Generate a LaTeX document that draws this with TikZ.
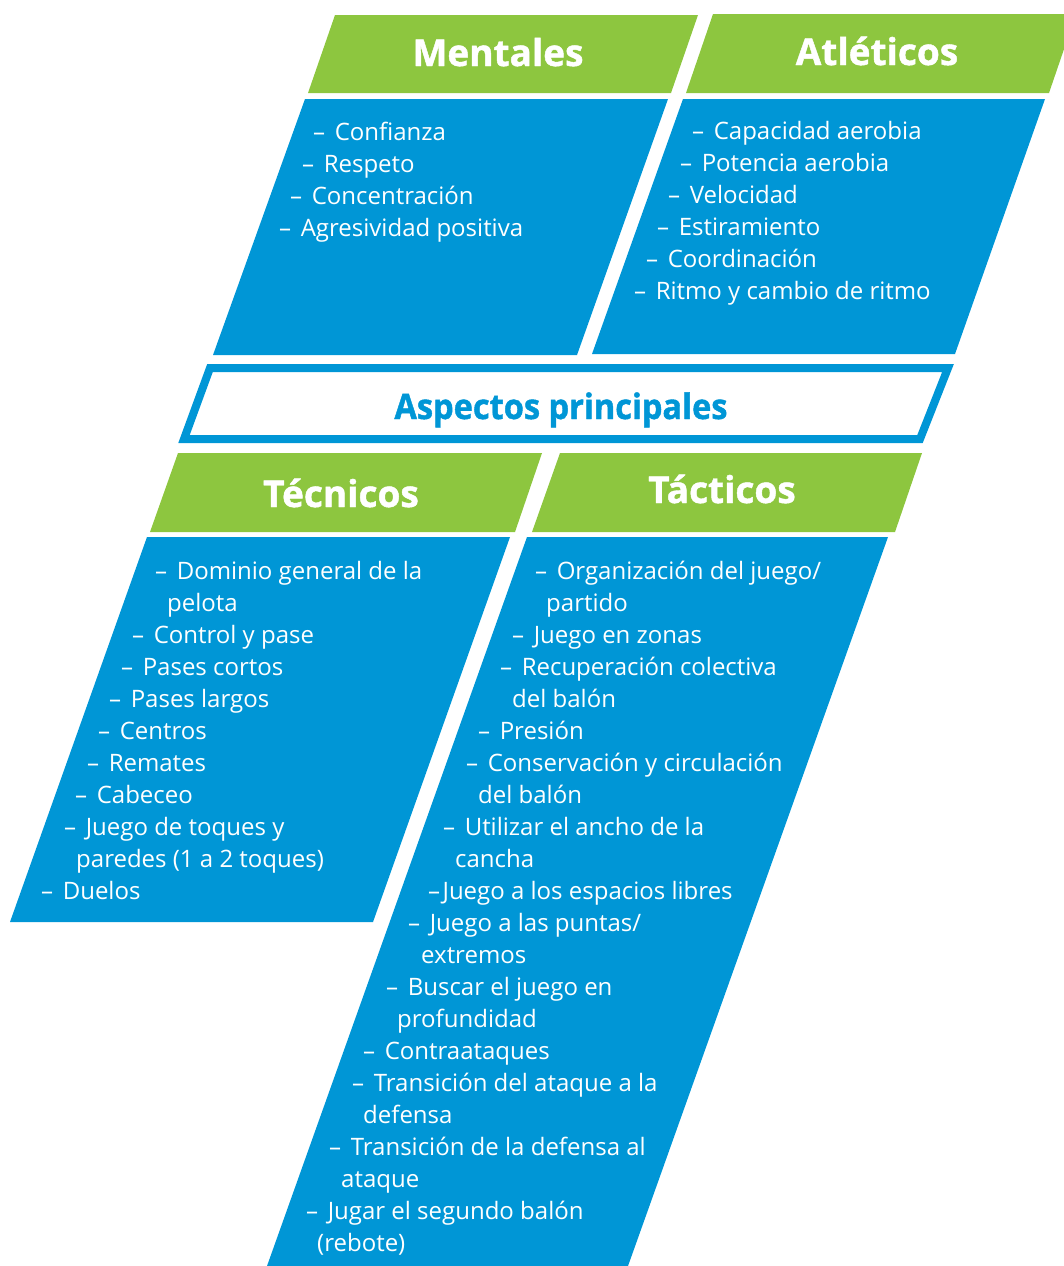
\documentclass[tikz,border=0pt]{standalone}
\usepackage{fontspec}
\setmainfont{Open Sans}
\newfontfamily\gruesa[FakeBold=1.2]{Open Sans}
\newfontfamily\estrecha[FakeBold=1.2,FakeStretch=0.93]{Open Sans}
\definecolor{verde}{RGB}{141,198,63}
\definecolor{azul}{RGB}{0,150,214}
\tikzset{
  titulo/.style={anchor=base,text=white,inner sep=0pt,font=\fontsize{37}{40}\gruesa\bfseries},
  punto/.style={anchor=base west,text=white,inner sep=0pt,font=\fontsize{24}{27}\selectfont},
}
\newcommand{\guion}{–\hspace{0.4em}}
\begin{document}
\begin{tikzpicture}[x=1pt,y=-1pt]
\useasboundingbox (0,0) rectangle (1064,1266);
\clip (0,0) rectangle (1064,1266);
% Mentales
\fill[verde] (335,15) -- (698,15) -- (671,93) -- (308,93) -- cycle;
\fill[azul] (305,99) -- (668,99) -- (577,355) -- (213,355) -- cycle;
\node[titulo] (mentales) at (498,66) {Mentales};
\node[punto] (m1) at (313,140) {\guion Confianza};
\node[punto] (m2) at (302,172) {\guion Respeto};
\node[punto] (m3) at (290,204) {\guion Concentración};
\node[punto] (m4) at (279,236) {\guion Agresividad positiva};
% Atleticos
\fill[verde] (713,14) -- (1076,14) -- (1049,93) -- (686,93) -- cycle;
\fill[azul] (683,99) -- (1045,99) -- (955,354) -- (592,354) -- cycle;
\node[titulo] (atleticos) at (877,65) {Atléticos};
\node[punto] (a1) at (692,139) {\guion Capacidad aerobia};
\node[punto] (a2) at (680,171) {\guion Potencia aerobia};
\node[punto] (a3) at (668,203) {\guion Velocidad};
\node[punto] (a4) at (657,235) {\guion Estiramiento};
\node[punto] (a5) at (646,267) {\guion Coordinación};
\node[punto] (a6) at (634,299) {\guion Ritmo y cambio de ritmo};
% Aspectos principales
\draw[azul,line width=8pt] (210,368) -- (948,368) -- (920,439) -- (184,439) -- cycle;
\node[titulo,text=azul,font=\fontsize{35}{38}\estrecha\bfseries] (aspectos) at (561,419) {Aspectos principales};
% Tecnicos
\fill[verde] (178,453) -- (542,453) -- (515,532) -- (150,532) -- cycle;
\fill[azul] (147,537) -- (510,537) -- (373,922) -- (10,922) -- cycle;
\node[titulo] (tecnicos) at (341,507) {Técnicos};
\node[punto] (te1) at (155,579) {\guion Dominio general de la};
\node[punto] (te1b) at (167,611) {pelota};
\node[punto] (te2) at (132,643) {\guion Control y pase};
\node[punto] (te3) at (121,675) {\guion Pases cortos};
\node[punto] (te4) at (109,707) {\guion Pases largos};
\node[punto] (te5) at (98,739) {\guion Centros};
\node[punto] (te6) at (87,771) {\guion Remates};
\node[punto] (te7) at (75,803) {\guion Cabeceo};
\node[punto] (te8) at (64,835) {\guion Juego de toques y};
\node[punto] (te8b) at (76,867) {paredes (1 a 2 toques)};
\node[punto] (te9) at (41,899) {\guion Duelos};
% Tacticos
\fill[verde] (560,453) -- (922,453) -- (895,532) -- (532,532) -- cycle;
\fill[azul] (527,537) -- (888,537) -- (628,1266) -- (267,1266) -- cycle;
\node[titulo] (tacticos) at (722,503) {Tácticos};
\node[punto] (ta1) at (535,579) {\guion Organización del juego/};
\node[punto] (ta1b) at (546,611) {partido};
\node[punto] (ta2) at (512,643) {\guion Juego en zonas};
\node[punto] (ta3) at (500,675) {\guion Recuperación colectiva};
\node[punto] (ta3b) at (512,707) {del balón};
\node[punto] (ta4) at (478,739) {\guion Presión};
\node[punto] (ta5) at (466,771) {\guion Conservación y circulación};
\node[punto] (ta5b) at (478,803) {del balón};
\node[punto] (ta6) at (443,835) {\guion Utilizar el ancho de la};
\node[punto] (ta6b) at (455,867) {cancha};
\node[punto] (ta7) at (428,899) {–\hspace{0.1em}Juego a los espacios libres};
\node[punto] (ta8) at (408,931) {\guion Juego a las puntas/};
\node[punto] (ta8b) at (421,963) {extremos};
\node[punto] (ta9) at (386,995) {\guion Buscar el juego en};
\node[punto] (ta9b) at (397,1027) {profundidad};
\node[punto] (ta10) at (363,1059) {\guion Contraataques};
\node[punto] (ta11) at (352,1091) {\guion Transición del ataque a la};
\node[punto] (ta11b) at (363,1123) {defensa};
\node[punto] (ta12) at (329,1155) {\guion Transición de la defensa al};
\node[punto] (ta12b) at (341,1187) {ataque};
\node[punto] (ta13) at (306,1219) {\guion Jugar el segundo balón};
\node[punto] (ta13b) at (317,1251) {(rebote)};
\end{tikzpicture}
\end{document}
